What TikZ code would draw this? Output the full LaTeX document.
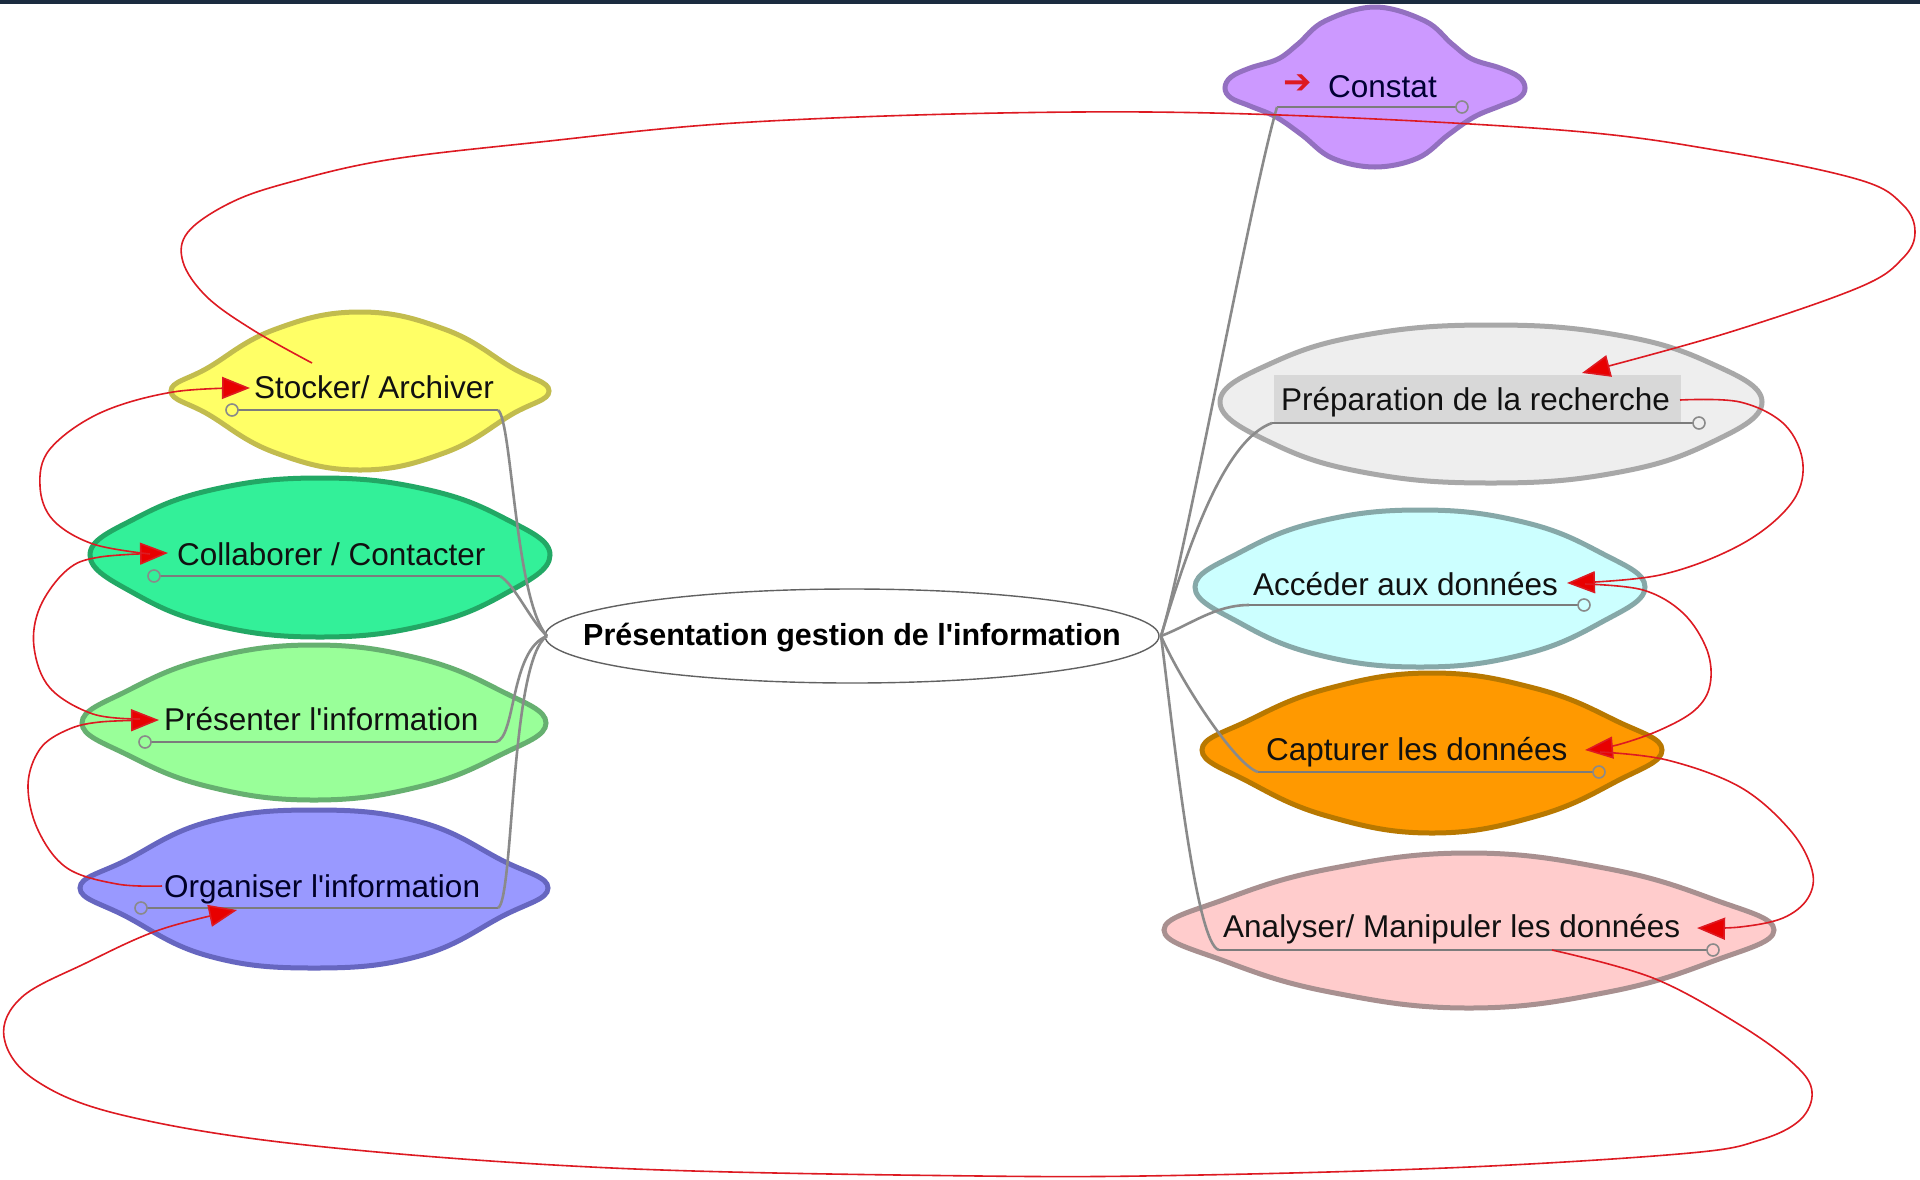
\documentclass[tikz,border=0pt]{standalone}
\usepackage{fontspec}
\newfontfamily\lblfont{Liberation Sans}
\newfontfamily\symfont{DejaVu Sans}
\usetikzlibrary{arrows.meta}
\definecolor{topbar}{HTML}{1B2B3F}
\definecolor{relred}{HTML}{DD1A22}
\definecolor{arrred}{HTML}{E80000}
\definecolor{branch}{HTML}{8A8A8A}
\definecolor{txt}{HTML}{111111}
\definecolor{cFill}{HTML}{CC99FF}\definecolor{cLine}{HTML}{9370C0}
\definecolor{sFill}{HTML}{FFFF66}\definecolor{sLine}{HTML}{C2BC4E}
\definecolor{coFill}{HTML}{33F099}\definecolor{coLine}{HTML}{22A865}
\definecolor{pFill}{HTML}{99FF99}\definecolor{pLine}{HTML}{66B070}
\definecolor{oFill}{HTML}{9999FF}\definecolor{oLine}{HTML}{6666C0}
\definecolor{prFill}{HTML}{EEEEEE}\definecolor{prLine}{HTML}{A8A8A8}
\definecolor{prHl}{HTML}{D8D8D8}
\definecolor{aFill}{HTML}{CCFFFF}\definecolor{aLine}{HTML}{86A8A8}
\definecolor{caFill}{HTML}{FF9900}\definecolor{caLine}{HTML}{B87800}
\definecolor{anFill}{HTML}{FFCCCC}\definecolor{anLine}{HTML}{A89090}
\newcommand\blobshape[8]{%
  \draw[#8] plot[smooth cycle, tension=0.72] coordinates {
    ({#1-#3},#2) ({#1-0.8*#3},{#2-#6*#4}) ({#1-0.45*#3},{#2-#7*#4}) (#1,{#2-#4})
    ({#1+0.45*#3},{#2-#7*#4}) ({#1+0.8*#3},{#2-#6*#4}) ({#1+#3},#2)
    ({#1+0.8*#3},{#2+#6*#5}) ({#1+0.45*#3},{#2+#7*#5}) (#1,{#2+#5})
    ({#1-0.45*#3},{#2+#7*#5}) ({#1-0.8*#3},{#2+#6*#5})};}
\begin{document}
\begin{tikzpicture}[x=1pt,y=-1pt,
  blob/.style={line width=5pt},
  lbl/.style={inner sep=0pt, anchor=base west, text=txt, font=\lblfont\fontsize{31.5}{38}\selectfont},
  uline/.style={draw=branch!90!black, line width=1.6pt},
  knob/.style={draw=branch, line width=1.6pt},
  branchline/.style={draw=branch, line width=2.6pt},
  rel/.style={draw=relred, line width=1.6pt, -{Triangle[length=28pt,width=22pt,fill=arrred]}}]
\useasboundingbox (0,0) rectangle (1920,1179);
\fill[white] (0,0) rectangle (1920,1179);
\fill[topbar] (0,0) rectangle (1920,3.5);

% ---- blobs
\draw[blob, fill=cFill, draw=cLine] plot[smooth cycle, tension=0.62] coordinates {(1225,88) (1231,77) (1250,68) (1278,59) (1298,44) (1325,21) (1375,7) (1425,21) (1452,44) (1472,59) (1500,68) (1519,77) (1525,88) (1519,98) (1500,106) (1474,117) (1448,135) (1418,158) (1375,167) (1332,158) (1302,135) (1276,117) (1250,106) (1231,98)};
\blobshape{360}{391}{189}{79}{79}{0.3}{0.78}{blob, fill=sFill, draw=sLine}
\blobshape{320}{555}{230}{77}{82}{0.48}{0.86}{blob, fill=coFill, draw=coLine}
\blobshape{314}{723}{232}{78}{77}{0.42}{0.83}{blob, fill=pFill, draw=pLine}
\blobshape{314}{888}{234}{78}{80}{0.36}{0.85}{blob, fill=oFill, draw=oLine}
\blobshape{1491}{402}{271}{77}{81}{0.52}{0.88}{blob, fill=prFill, draw=prLine}
\blobshape{1420}{587}{225}{77}{80}{0.45}{0.85}{blob, fill=aFill, draw=aLine}
\blobshape{1432}{750}{230}{77}{83}{0.38}{0.8}{blob, fill=caFill, draw=caLine}
\blobshape{1469}{930}{305}{77}{78}{0.4}{0.8}{blob, fill=anFill, draw=anLine}
\draw[draw=branch!70!black, line width=1.4pt, fill=white] (852,636) ellipse [x radius=307pt, y radius=47pt];
\fill[prHl] (1274,375) rectangle (1681,422);

% ---- texts
\node[inner sep=0pt, text=relred, font=\symfont\bfseries\fontsize{34}{38}\selectfont] (constatIcon) at (1298,84) {➔};
\node[lbl, text=black!80!blue] (constat) at (1328,97) {Constat};
\node[lbl] (stocker) at (254,398) {Stocker/ Archiver};
\node[lbl] (collab) at (177,565) {Collaborer / Contacter};
\node[lbl] (present) at (164,730) {Présenter l'information};
\node[lbl, text=black!85!blue] (organ) at (164,897) {Organiser l'information};
\node[lbl] (prep) at (1281,410) {Préparation de la recherche};
\node[lbl] (acced) at (1253,595) {Accéder aux données};
\node[lbl] (captur) at (1266,760) {Capturer les données};
\node[lbl] (analys) at (1223,937) {Analyser/ Manipuler les données};
\node[inner sep=0pt, anchor=base, text=black, font=\lblfont\bfseries\fontsize{30.5}{36}\selectfont] (center) at (852,645) {Présentation gestion de l'information};

% ---- anchor points
\coordinate (cL) at (547,636);
\coordinate (cR) at (1161,636);
\coordinate (constatUL) at (1277,107);  \coordinate (constatK) at (1462,107);
\coordinate (stockerK) at (232,410);    \coordinate (stockerUR) at (498,410);
\coordinate (collabK) at (154,576);     \coordinate (collabUR) at (500,576);
\coordinate (presentK) at (145,742);    \coordinate (presentUR) at (496,742);
\coordinate (organK) at (141,908);      \coordinate (organUR) at (498,908);
\coordinate (prepUL) at (1272,423);     \coordinate (prepK) at (1699,423);
\coordinate (accedUL) at (1249,605);    \coordinate (accedK) at (1584,605);
\coordinate (capturUL) at (1258,772);   \coordinate (capturK) at (1599,772);
\coordinate (analysUL) at (1219,950);   \coordinate (analysK) at (1713,950);

% ---- underlines
\draw[uline] (constatUL) -- (constatK);
\draw[uline] (stockerK) -- (stockerUR);
\draw[uline] (collabK) -- (collabUR);
\draw[uline] (presentK) -- (presentUR);
\draw[uline] (organK) -- (organUR);
\draw[uline] (prepUL) -- (prepK);
\draw[uline] (accedUL) -- (accedK);
\draw[uline] (capturUL) -- (capturK);
\draw[uline] (analysUL) -- (analysK);

% ---- branches
\draw[branchline] (cR) .. controls (1185,560) and (1250,200) .. (constatUL);
\draw[branchline] (cR) .. controls (1190,540) and (1225,440) .. (prepUL);
\draw[branchline] (cR) .. controls (1190,625) and (1215,605) .. (accedUL);
\draw[branchline] (cR) .. controls (1180,680) and (1235,765) .. (capturUL);
\draw[branchline] (cR) .. controls (1172,720) and (1195,945) .. (analysUL);
\draw[branchline] (stockerUR) .. controls (512,420) and (515,600) .. (cL);
\draw[branchline] (collabUR) .. controls (515,585) and (530,620) .. (cL);
\draw[branchline] (presentUR) .. controls (516,738) and (510,650) .. (cL);
\draw[branchline] (organUR) .. controls (514,900) and (510,660) .. (cL);

% ---- knobs
\draw[knob, fill=cFill] (constatK) circle[radius=6pt];
\draw[knob, fill=sFill] (stockerK) circle[radius=6pt];
\draw[knob, fill=coFill] (collabK) circle[radius=6pt];
\draw[knob, fill=pFill] (presentK) circle[radius=6pt];
\draw[knob, fill=oFill] (organK) circle[radius=6pt];
\draw[knob, fill=prFill] (prepK) circle[radius=6pt];
\draw[knob, fill=aFill] (accedK) circle[radius=6pt];
\draw[knob, fill=caFill] (capturK) circle[radius=6pt];
\draw[knob, fill=anFill] (analysK) circle[radius=6pt];

% ---- relation ends
\coordinate (rStockerOut) at (312,363);  \coordinate (rStockerIn) at (250,388);
\coordinate (rCollabOut) at (150,554);   \coordinate (rCollabIn) at (168,553);
\coordinate (rPresentOut) at (140,719);  \coordinate (rPresentIn) at (159,720);
\coordinate (rOrganOut) at (162,886);    \coordinate (rOrganIn) at (237,910);
\coordinate (rPrepOut) at (1680,400);    \coordinate (rPrepIn) at (1582,373);
\coordinate (rAccedOut) at (1585,584);   \coordinate (rAccedIn) at (1567,583);
\coordinate (rCapturOut) at (1600,752);  \coordinate (rCapturIn) at (1585,750);
\coordinate (rAnalysOut) at (1552,950);  \coordinate (rAnalysIn) at (1697,928);

% ---- relations (red)
\draw[rel] plot[smooth, tension=0.6] coordinates {(rStockerOut) (253,330) (207,297) (183,262) (188,232) (230,203) (287,183) (387,160) (540,142) (735,123) (1000,113) (1250,114) (1560,130) (1727,152) (1860,180) (1903,205) (1915,232) (1903,258) (1860,287) (1727,333) (rPrepIn)};
\draw[rel] plot[smooth, tension=0.6] coordinates {(rPrepOut) (1740,402) (1785,425) (1803,465) (1790,505) (1740,545) (1660,575) (rAccedIn)};
\draw[rel] plot[smooth, tension=0.6] coordinates {(rAccedOut) (1643,590) (1683,613) (1707,650) (1710,685) (1695,710) (1660,730) (1617,745) (rCapturIn)};
\draw[rel] plot[smooth, tension=0.6] coordinates {(rCapturOut) (1667,760) (1740,787) (1790,830) (1812,870) (1808,898) (1783,918) (1740,927) (rAnalysIn)};
\draw[rel] plot[smooth, tension=0.6] coordinates {(rAnalysOut) (1653,978) (1740,1025) (1795,1065) (1812,1092) (1800,1120) (1760,1140) (1690,1153) (1469,1167) (1200,1175) (980,1176) (612,1168) (306,1145) (122,1115) (35,1080) (4,1037) (22,997) (86,963) (159,930) (rOrganIn)};
\draw[rel] plot[smooth, tension=0.6] coordinates {(rOrganOut) (117,884) (67,868) (38,830) (28,785) (40,749) (67,730) (100,722) (rPresentIn)};
\draw[rel] plot[smooth, tension=0.6] coordinates {(rPresentOut) (93,714) (50,688) (34,647) (40,607) (67,570) (100,557) (rCollabIn)};
\draw[rel] plot[smooth, tension=0.6] coordinates {(rCollabOut) (93,544) (53,520) (40,486) (50,449) (100,413) (173,392) (rStockerIn)};
\end{tikzpicture}
\end{document}
